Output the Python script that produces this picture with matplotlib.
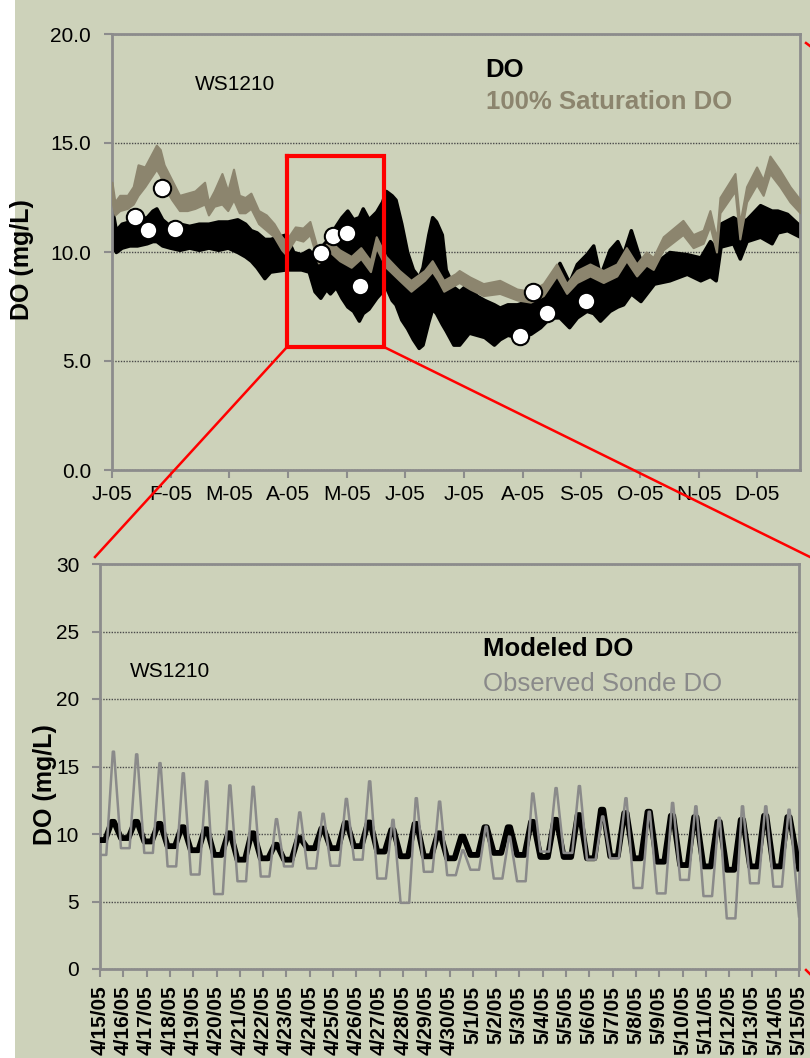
import numpy as np
import matplotlib
matplotlib.use("Agg")
import matplotlib.pyplot as plt
from matplotlib.lines import Line2D
from matplotlib.patches import Rectangle

plt.rcParams['font.family'] = ['Liberation Sans', 'DejaVu Sans']

# ---------------- Annual series (day of year 2005) ----------------
do_days = [0, 2, 5, 9, 13, 18, 21, 23, 26, 30, 35, 40, 45, 50, 55, 60, 65, 69, 72, 75,
           79, 82, 86, 90, 94, 98, 102, 105, 108, 111, 113, 116, 119, 122, 125, 128, 130,
           133, 137, 140, 142, 145, 147, 150, 153, 156, 159, 161, 164, 166, 168, 171, 173,
           177, 180, 185, 189, 193, 198, 201, 205, 210, 217, 222, 227, 232, 237, 241, 246,
           249.5, 253, 258, 262, 265, 269, 274, 281, 289, 298, 305, 310, 313, 315.5, 322,
           325.5, 329, 336, 342, 345, 350, 356.7]
do_low = [10.3, 10.0, 10.2, 10.3, 10.3, 10.4, 10.5, 10.5, 10.3, 10.2, 10.1, 10.2, 10.1, 10.2,
          10.1, 10.2, 10.0, 9.8, 9.6, 9.3, 8.8, 9.1, 9.15, 9.2, 9.2, 9.2, 9.1, 8.2, 7.9, 8.3,
          8.1, 8.4, 7.9, 7.5, 7.3, 6.85, 7.2, 7.4, 7.9, 8.2, 8.4, 7.8, 7.6, 6.9, 6.5, 6.0,
          5.6, 5.75, 6.8, 7.4, 7.2, 6.7, 6.4, 5.75, 5.75, 6.3, 6.2, 6.1, 5.75, 6.0, 6.2, 6.1,
          6.25, 6.55, 7.0, 7.0, 6.55, 7.0, 7.3, 7.2, 6.85, 7.3, 7.5, 7.6, 8.1, 7.75, 8.55,
          8.7, 9.0, 8.7, 8.9, 8.7, 10.25, 10.4, 9.7, 10.5, 10.7, 10.4, 10.9, 11.0, 10.7]
do_high = [12.0, 11.0, 11.3, 11.4, 11.5, 11.6, 11.9, 12.0, 11.5, 11.2, 11.3, 11.2, 11.3, 11.3,
           11.4, 11.4, 11.5, 11.3, 11.0, 10.9, 10.6, 10.6, 10.7, 10.8, 10.0, 9.9, 10.1, 9.8,
           10.2, 10.5, 10.7, 11.2, 11.6, 11.9, 11.5, 11.6, 12.0, 11.5, 11.85, 12.3, 12.8,
           12.6, 12.4, 11.3, 10.0, 9.2, 8.85, 9.3, 10.8, 11.6, 11.4, 10.8, 9.2, 8.4, 8.2,
           8.6, 8.0, 7.8, 7.6, 7.45, 7.6, 7.6, 7.8, 8.1, 8.4, 9.5, 8.6, 9.45, 9.9, 10.3, 8.9,
           10.1, 10.5, 9.9, 11.0, 9.6, 9.45, 10.0, 9.9, 9.75, 10.5, 10.2, 11.3, 11.6, 11.4,
           11.5, 12.15, 11.9, 11.9, 11.75, 11.2]

sat_days = [0, 1.5, 4, 8, 11, 13.5, 17, 20, 23, 25, 27, 31, 35, 39, 43, 48, 50, 53, 57, 60,
            63, 66, 69, 72, 76, 80, 84, 88, 90, 95, 99, 102.6, 107, 113, 118, 124, 129, 134,
            137, 142, 149, 155, 162, 166, 169, 172, 178, 180, 185.6, 192.5, 201, 210, 217,
            223.6, 230.5, 235.7, 241, 247.8, 254.7, 261.7, 266.7, 272, 277, 280.6, 285.8,
            296, 301.3, 306.5, 310, 313.4, 315.2, 323, 325.5, 329, 334.2, 337.6, 341.1,
            346.3, 351.5, 356.7]
sat_low = [12.3, 11.7, 11.9, 12.0, 12.2, 12.6, 13.0, 13.4, 13.8, 13.5, 13.0, 12.4, 11.9, 11.9,
           12.0, 12.2, 11.7, 12.1, 12.2, 11.9, 12.4, 11.8, 11.8, 12.0, 11.3, 11.0, 10.7, 10.1,
           9.9, 10.6, 10.5, 10.8, 9.5, 10.0, 9.6, 9.3, 9.7, 9.1, 10.2, 9.3, 8.7, 8.2, 8.7,
           9.1, 8.7, 8.2, 8.5, 8.6, 8.3, 8.0, 8.1, 7.8, 7.7, 8.0, 8.9, 8.1, 8.6, 8.9, 8.6,
           8.9, 9.6, 8.9, 9.4, 9.2, 10.1, 10.8, 10.2, 10.4, 11.2, 10.0, 11.8, 12.8, 10.6,
           12.3, 13.1, 12.6, 13.6, 13.0, 12.3, 11.8]
sat_high = [13.2, 12.3, 12.6, 12.6, 13.0, 14.0, 13.9, 14.4, 14.9, 14.7, 14.0, 13.3, 12.6, 12.7,
            12.8, 13.2, 12.3, 12.8, 13.6, 12.8, 13.8, 12.6, 12.5, 12.7, 11.9, 11.7, 11.3, 10.7,
            10.5, 11.15, 11.1, 11.4, 10.0, 10.5, 10.1, 9.8, 10.2, 9.6, 10.7, 9.8, 9.15, 8.7,
            9.15, 9.6, 9.15, 8.7, 9.0, 9.15, 8.85, 8.55, 8.7, 8.3, 8.2, 8.55, 9.45, 8.55,
            9.15, 9.45, 9.15, 9.45, 10.2, 9.45, 10.0, 9.75, 10.7, 11.45, 10.8, 11.0, 11.9,
            10.6, 12.5, 13.6, 11.3, 13.0, 13.9, 13.3, 14.4, 13.75, 13.0, 12.4]

grab_days = [12.1, 18.7, 25.9, 32.5, 108.3, 114.6, 121.6, 128.8, 211.5, 218.4, 225.3, 245.7]
grab_do = [11.6, 11.0, 12.95, 11.06, 9.97, 10.72, 10.85, 8.42, 6.15, 8.15, 7.18, 7.77]

month_labels = ["J-05", "F-05", "M-05", "A-05", "M-05", "J-05",
                "J-05", "A-05", "S-05", "O-05", "N-05", "D-05"]

# ---------------- 4/15/05 - 5/15/05 hourly comparison ----------------
date_labels = ["4/15/05", "4/16/05", "4/17/05", "4/18/05", "4/19/05", "4/20/05", "4/21/05",
               "4/22/05", "4/23/05", "4/24/05", "4/25/05", "4/26/05", "4/27/05", "4/28/05",
               "4/29/05", "4/30/05", "5/1/05", "5/2/05", "5/3/05", "5/4/05", "5/5/05",
               "5/6/05", "5/7/05", "5/8/05", "5/9/05", "5/10/05", "5/11/05", "5/12/05",
               "5/13/05", "5/14/05", "5/15/05"]

# daily afternoon maxima and the night-time minima that precede them
obs_peak = [16.1, 15.9, 15.25, 14.5, 13.9, 13.6, 13.5, 11.1, 11.6, 11.5, 12.6, 13.9, 11.05,
            12.65, 12.4, 8.8, 10.55, 9.8, 13.0, 13.4, 13.55, 11.3, 12.65, 11.65, 12.3, 12.05,
            11.2, 12.05, 12.05, 11.8]
obs_trough = [8.45, 8.95, 8.6, 7.6, 7.0, 5.55, 6.5, 6.85, 7.6, 7.45, 7.65, 8.1, 6.7, 4.9, 7.2,
              6.95, 7.35, 6.7, 6.5, 8.7, 8.6, 8.1, 8.2, 6.0, 5.6, 6.6, 5.4, 3.75, 6.35, 6.1, 3.9]
mod_peak = [10.9, 10.9, 10.75, 10.5, 10.35, 10.05, 10.05, 9.2, 9.7, 10.4, 10.8, 10.85, 10.3,
            10.75, 10.05, 9.8, 10.5, 10.5, 10.9, 11.05, 11.4, 11.8, 11.55, 11.65, 11.35, 11.25,
            10.9, 11.05, 11.35, 11.25]
mod_trough = [9.55, 9.7, 9.45, 9.1, 8.8, 8.45, 8.1, 8.2, 8.1, 8.95, 8.95, 9.1, 8.7, 8.35, 8.35,
              8.2, 8.45, 8.6, 8.45, 8.3, 8.3, 8.2, 8.35, 8.2, 7.95, 7.7, 7.6, 7.35, 7.6, 7.6, 7.45]


def diel_path(peaks, troughs, t_lo_after, t_lo_before, t_hi):
    """Place each day's minima and maxima at their time of day."""
    xs, ys = [0.0], [troughs[0]]
    for k, p in enumerate(peaks):
        if k > 0:
            xs.append(k - 1 + t_lo_after)
            ys.append(troughs[k])
        xs.append(k + t_lo_before)
        ys.append(troughs[k])
        for t in t_hi:
            xs.append(k + t)
            ys.append(p)
    xs.append(len(peaks))
    ys.append(troughs[-1])
    return xs, ys


BG = "#CDD2BA"
SPINE = "#8C8C8C"
TAN = "#8C856E"
W, H = 810, 1058

fig = plt.figure(figsize=(W / 100, H / 100), dpi=100)
fig.patch.set_facecolor(BG)
fig.add_artist(Rectangle((0, 0), 15 / W, 1, transform=fig.transFigure,
                         facecolor="white", edgecolor="none", zorder=-5))


def style_axes(ax):
    ax.set_facecolor(BG)
    for s in ax.spines.values():
        s.set_color(SPINE)
        s.set_linewidth(2)
    ax.set_axisbelow(True)
    ax.yaxis.grid(True, linestyle=(0, (1, 1)), color="#4a4a4a", linewidth=1)
    ax.tick_params(axis="both", colors=SPINE, length=6, width=1.5, labelsize=15,
                   labelcolor="black")
    ax.tick_params(axis="y", pad=9)


# ---- annual panel ----
ax1 = fig.add_axes([112 / W, 1 - 470 / H, 688 / W, 436 / H])
style_axes(ax1)
ax1.fill_between(do_days, do_low, do_high, color="black", edgecolor="black",
                 linewidth=2.5, zorder=2)
ax1.fill_between(sat_days, sat_low, sat_high, color=TAN, edgecolor=TAN,
                 linewidth=1.5, zorder=3)
ax1.plot(grab_days, grab_do, "o", ms=12.5, mfc="white", mec="black", mew=1.5, zorder=4)
ax1.set_xlim(0, 356.7)
ax1.set_ylim(0, 20)
ax1.set_yticks([0, 5, 10, 15, 20])
ax1.set_yticklabels([f"{v:.1f}" for v in [0, 5, 10, 15, 20]])
ax1.set_xticks([k * 365 / 12 for k in range(12)])
ax1.set_xticklabels(month_labels)
ax1.tick_params(axis="x", pad=5)
ax1.text(0.121, 0.885, "WS1210", transform=ax1.transAxes, fontsize=15, va="center")
ax1.text(0.543, 0.918, "DO", transform=ax1.transAxes, fontsize=18.5,
         fontweight="bold", va="center")
ax1.text(0.543, 0.843, "100% Saturation DO", transform=ax1.transAxes, fontsize=18.5,
         fontweight="bold", color=TAN, va="center")
fig.text(22 / W, 1 - 260 / H, "DO (mg/L)", rotation=90, fontsize=18,
         fontweight="bold", ha="center", va="center")

# ---- zoomed panel ----
ax2 = fig.add_axes([100 / W, 1 - 969 / H, 699 / W, 405 / H])
style_axes(ax2)
mx, my = diel_path(mod_peak, mod_trough, 0.9, 0.22, [0.5, 0.6])
ox, oy = diel_path(obs_peak, obs_trough, 0.9, 0.27, [0.55, 0.6])
ax2.plot(mx, my, color="black", lw=4.2, solid_joinstyle="round", zorder=3)
ax2.plot(ox, oy, color="#8A8A8A", lw=1.8, solid_joinstyle="round", zorder=4)
ax2.set_xlim(0, 30)
ax2.set_ylim(0, 30)
ax2.set_yticks(range(0, 31, 5))
ax2.set_xticks(range(len(date_labels)))
ax2.set_xticklabels(date_labels, rotation=90, fontweight="bold", va="top")
ax2.tick_params(axis="x", pad=6)
ax2.text(0.043, 0.735, "WS1210", transform=ax2.transAxes, fontsize=15, va="center")
ax2.text(0.548, 0.790, "Modeled DO", transform=ax2.transAxes, fontsize=18.5,
         fontweight="bold", va="center")
ax2.text(0.548, 0.703, "Observed Sonde DO", transform=ax2.transAxes, fontsize=18.5,
         color="#8A8A8A", va="center")
fig.text(45 / W, 1 - 785 / H, "DO (mg/L)", rotation=90, fontsize=18,
         fontweight="bold", ha="center", va="center")


# ---- red call-out linking the two panels ----
def fig_line(pts, lw):
    xs = [p[0] / W for p in pts]
    ys = [1 - p[1] / H for p in pts]
    fig.add_artist(Line2D(xs, ys, transform=fig.transFigure, color="#FF0000",
                          lw=lw, solid_joinstyle="miter", zorder=10))


fig_line([(287, 156), (384, 156), (384, 347), (287, 347), (287, 156)], 3)
fig_line([(287, 347), (95, 557)], 1.8)
fig_line([(384, 347), (810, 557)], 1.8)
fig_line([(806, 43), (810, 46)], 1.8)
fig_line([(806, 970), (810, 974)], 1.8)

fig.savefig("out.png", dpi=100, facecolor=BG)
